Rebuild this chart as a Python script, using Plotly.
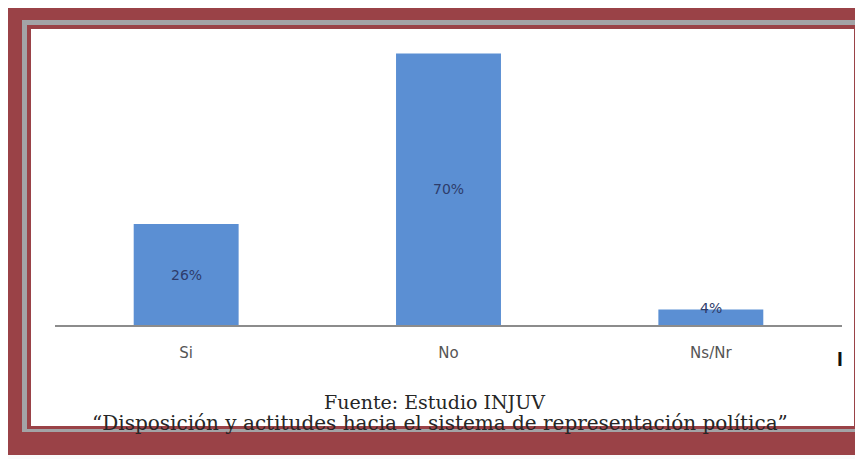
import plotly.graph_objects as go

categories = ["Si", "No", "Ns/Nr"]
values = [26, 70, 4]
labels = ["26%", "70%", "4%"]
source_line1 = "Fuente: Estudio INJUV"
source_line2 = "\u201cDisposición y actitudes hacia el sistema de representación política\u201d"

# page has an 8px body margin; compensate so the figure lands where the reference is
OFF = 8
W, H = 863 - OFF, 459 - OFF
def px(x):
    return (x - OFF) / W
def py(y):
    return 1 - (y - OFF) / H

fig = go.Figure()
fig.add_trace(go.Bar(
    x=categories, y=values,
    marker=dict(color="#5B8FD3", line=dict(width=0)),
    width=0.4,
    hoverinfo="skip",
))

# data labels
for c, v, t in zip(categories, values, labels):
    inside = v > 10
    fig.add_annotation(
        x=c, y=(v / 2 if inside else v), xref="x", yref="y",
        text=t, showarrow=False, yanchor="middle",
        yshift=(0 if inside else 1),
        font=dict(family="DejaVu Sans", size=14, color="#2E3C6B"),
    )

# border frames
frames = [
    (0, 7, 900, 455, "#9A4247"),
    (22, 20, 859, 432, "#A3A3A6"),
    (27, 25, 856.5, 429, "#9A4247"),
    (31, 29, 854, 426, "#FFFFFF"),
]
for x0, y0, x1, y1, col in frames:
    fig.add_shape(type="rect", xref="paper", yref="paper",
                  x0=px(x0), x1=px(x1), y0=py(y1), y1=py(y0),
                  fillcolor=col, line=dict(width=0), layer="below")

fig.add_annotation(x=px(434), y=py(402), xref="paper", yref="paper",
                   text=source_line1, showarrow=False, yanchor="middle",
                   font=dict(family="DejaVu Serif", size=19, color="#262626"))
fig.add_annotation(x=px(440), y=py(423), xref="paper", yref="paper",
                   text=source_line2, showarrow=False, yanchor="middle",
                   font=dict(family="DejaVu Serif", size=20, color="#262626"))
fig.add_annotation(x=px(845), y=py(360), xref="paper", yref="paper",
                   text="<b>l</b>", showarrow=False, yanchor="middle",
                   font=dict(family="DejaVu Sans", size=17, color="#111"))

fig.update_layout(
    width=W, height=H,
    margin=dict(l=0, r=0, t=0, b=0),
    paper_bgcolor="#FAFAFA",
    plot_bgcolor="rgba(0,0,0,0)",
    showlegend=False,
    xaxis=dict(
        domain=[px(55), px(842)],
        range=[-0.5, 2.5],
        showline=True, linecolor="#8C8C8C", linewidth=1.5,
        ticks="", showgrid=False, zeroline=False,
        tickfont=dict(family="DejaVu Sans", size=15, color="#555"),
        ticklabelstandoff=13,
        fixedrange=True,
    ),
    yaxis=dict(
        domain=[py(325), py(34)],
        range=[0, 75],
        visible=False,
        fixedrange=True,
    ),
)

fig.write_html("out.html")
